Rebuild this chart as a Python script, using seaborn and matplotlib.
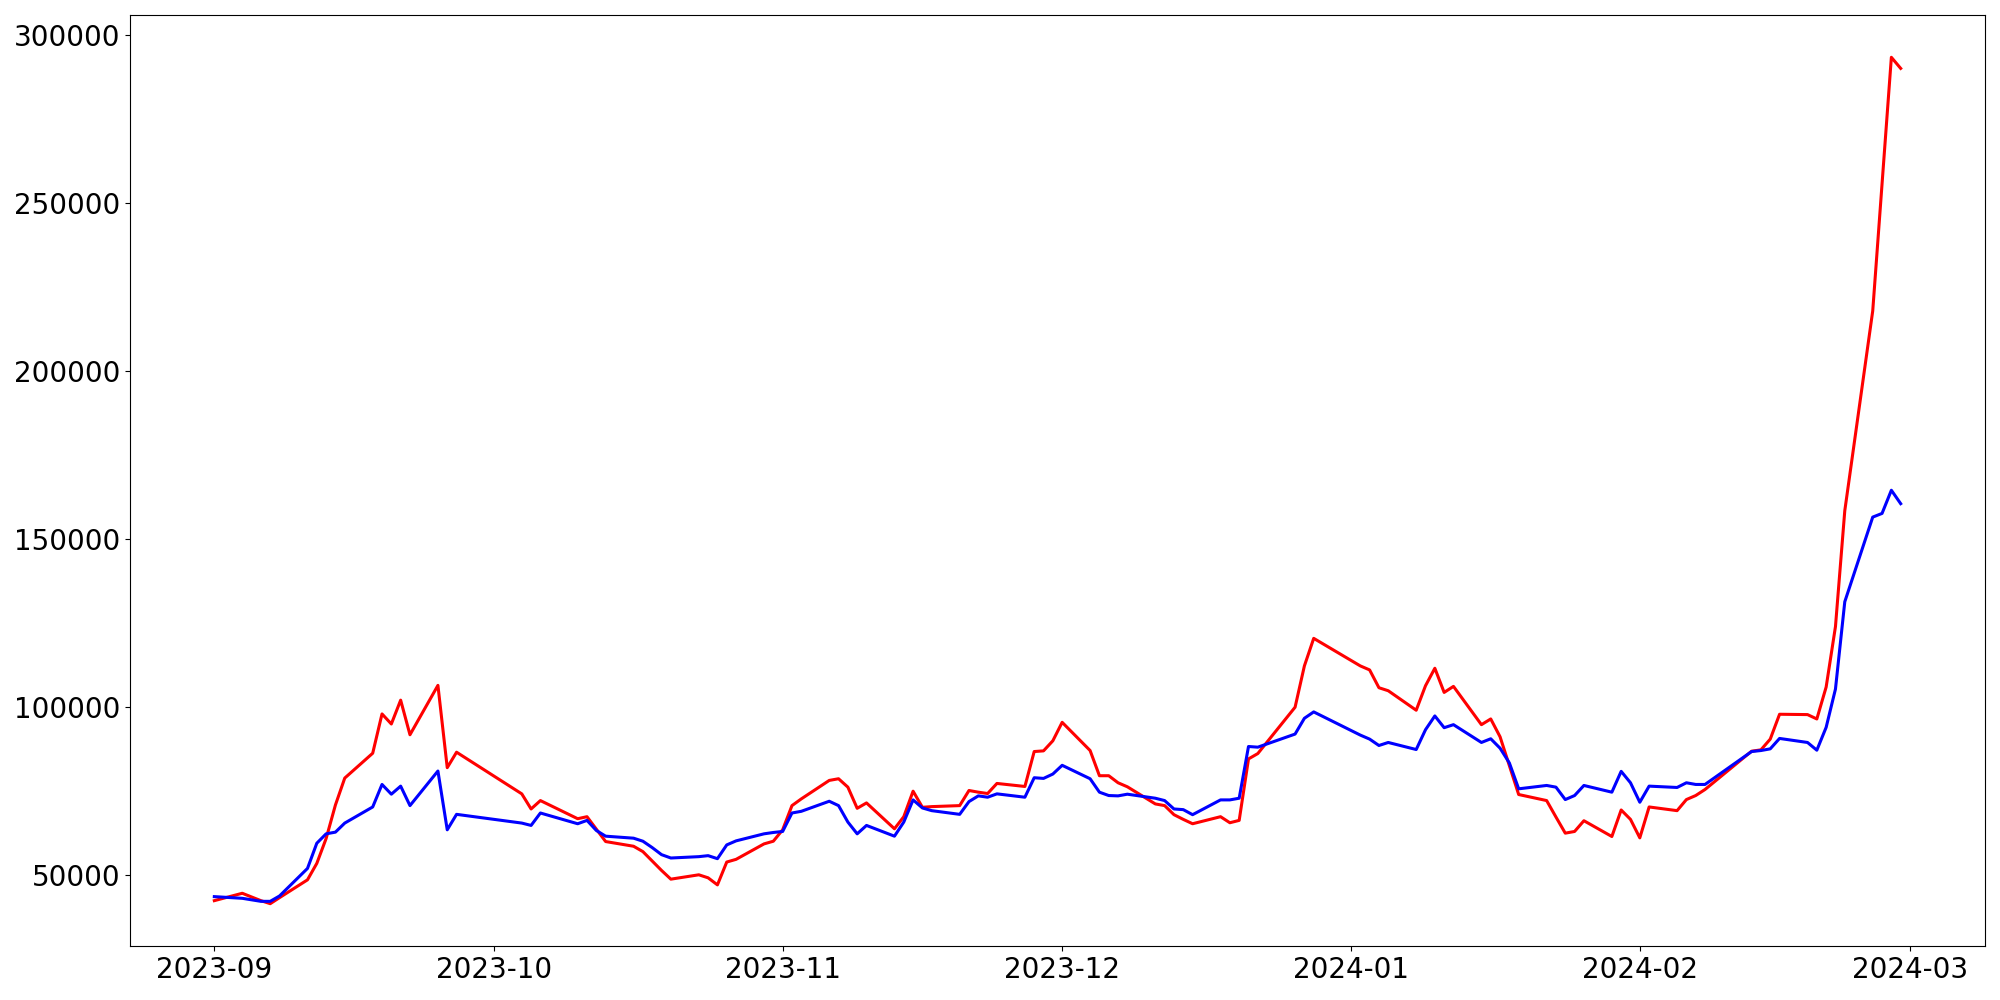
import matplotlib
matplotlib.use("Agg")
import matplotlib.pyplot as plt
import seaborn as sns
import pandas as pd

dates = [
    "2023-09-01", "2023-09-04", "2023-09-06", "2023-09-07", "2023-09-08",
    "2023-09-11", "2023-09-12", "2023-09-13", "2023-09-14", "2023-09-15",
    "2023-09-18", "2023-09-19", "2023-09-20", "2023-09-21", "2023-09-22",
    "2023-09-25", "2023-09-26", "2023-09-27",
    "2023-10-04", "2023-10-05", "2023-10-06",
    "2023-10-10", "2023-10-11", "2023-10-12", "2023-10-13",
    "2023-10-16", "2023-10-17", "2023-10-18", "2023-10-19", "2023-10-20",
    "2023-10-23", "2023-10-24", "2023-10-25", "2023-10-26", "2023-10-27",
    "2023-10-30", "2023-10-31", "2023-11-01", "2023-11-02", "2023-11-03",
    "2023-11-06", "2023-11-07", "2023-11-08", "2023-11-09", "2023-11-10",
    "2023-11-13", "2023-11-14", "2023-11-15", "2023-11-16", "2023-11-17",
    "2023-11-20", "2023-11-21", "2023-11-22", "2023-11-23", "2023-11-24",
    "2023-11-27", "2023-11-28", "2023-11-29", "2023-11-30", "2023-12-01",
    "2023-12-04", "2023-12-05", "2023-12-06", "2023-12-07", "2023-12-08",
    "2023-12-11", "2023-12-12", "2023-12-13", "2023-12-14", "2023-12-15",
    "2023-12-18", "2023-12-19", "2023-12-20", "2023-12-21", "2023-12-22",
    "2023-12-26", "2023-12-27", "2023-12-28",
    "2024-01-02", "2024-01-03", "2024-01-04", "2024-01-05",
    "2024-01-08", "2024-01-09", "2024-01-10", "2024-01-11", "2024-01-12",
    "2024-01-15", "2024-01-16", "2024-01-17", "2024-01-18", "2024-01-19",
    "2024-01-22", "2024-01-23", "2024-01-24", "2024-01-25", "2024-01-26",
    "2024-01-29", "2024-01-30", "2024-01-31", "2024-02-01", "2024-02-02",
    "2024-02-05", "2024-02-06", "2024-02-07", "2024-02-08",
    "2024-02-13", "2024-02-14", "2024-02-15", "2024-02-16",
    "2024-02-19", "2024-02-20", "2024-02-21", "2024-02-22", "2024-02-23",
    "2024-02-26", "2024-02-27", "2024-02-28", "2024-02-29",
]

red_values = [
    42400, 44600, 42400, 41500, 43300,
    48600, 53500, 60900, 70900, 78900,
    86300, 98000, 95000, 102100, 91800,
    106500, 82000, 86600,
    74200, 69700, 72200,
    66800, 67400, 63700, 60000,
    58600, 57000, 54200, 51400, 48800,
    50100, 49200, 47100, 53900, 54700,
    59300, 60100, 63500, 70700, 72700,
    78200, 78700, 76200, 69900, 71500,
    63800, 67400, 75000, 70200, 70400,
    70700, 75200, 74700, 74300, 77300,
    76400, 86800, 87000, 90000, 95500,
    87100, 79600, 79600, 77500, 76300,
    71200, 70700, 68000, 66600, 65300,
    67400, 65600, 66300, 84600, 86200,
    100000, 112300, 120500,
    112300, 111100, 105800, 104900,
    99100, 106400, 111600, 104400, 106200,
    94800, 96500, 91200, 82600, 74000,
    72200, 67300, 62500, 63000, 66200,
    61500, 69400, 66600, 61100, 70300,
    69200, 72500, 73700, 75500,
    86900, 87300, 90500, 97900,
    97800, 96500, 106000, 124000, 158500,
    218000, 255800, 293500, 290200,
]

blue_values = [
    43600, 43100, 42200, 42200, 43800,
    52000, 59500, 62300, 62800, 65500,
    70300, 77000, 74100, 76500, 70700,
    81000, 63500, 68100,
    65500, 64800, 68500,
    65300, 66300, 63300, 61600,
    61000, 60100, 58200, 56100, 55100,
    55500, 55800, 54900, 59000, 60200,
    62300, 62700, 63000, 68500, 69000,
    72000, 70700, 65800, 62300, 64800,
    61600, 65800, 72400, 70000, 69200,
    68100, 71900, 73600, 73200, 74200,
    73200, 79000, 78800, 80100, 82700,
    78700, 74700, 73700, 73600, 74100,
    72900, 72200, 69700, 69500, 68000,
    72400, 72400, 72900, 88300, 88100,
    92000, 96700, 98600,
    91700, 90500, 88600, 89500,
    87400, 93300, 97400, 93900, 94800,
    89500, 90600, 87800, 83400, 75700,
    76700, 76200, 72500, 73700, 76700,
    74700, 80900, 77500, 71700, 76500,
    76100, 77500, 77000, 77000,
    86800, 87100, 87600, 90700,
    89500, 87200, 94000, 105400, 131400,
    156600, 157700, 164600, 160600,
]

df = pd.DataFrame({
    "date": pd.to_datetime(dates),
    "red": red_values,
    "blue": blue_values,
})

fig, ax = plt.subplots(figsize=(20, 10), dpi=100)
fig.subplots_adjust(left=0.065, right=0.9925, top=0.985, bottom=0.054)

sns.lineplot(data=df, x="date", y="red", color="red", linewidth=2.2, ax=ax)
sns.lineplot(data=df, x="date", y="blue", color="blue", linewidth=2.2, ax=ax)

ax.set_xlabel("")
ax.set_ylabel("")
ax.tick_params(axis="both", labelsize=20)

fig.savefig("out.png", dpi=100)
